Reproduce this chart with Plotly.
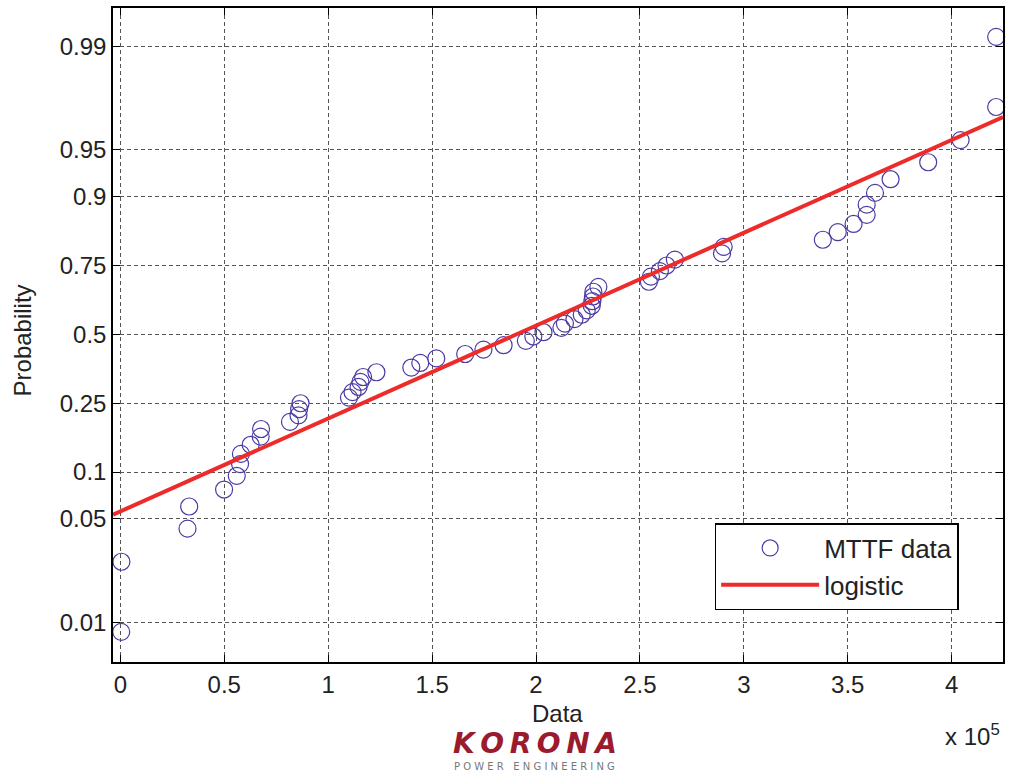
import math
import plotly.graph_objects as go

# ---- data ----
mttf_x = [400, 500, 32300, 33100, 49900, 56000, 57600, 58000, 62700, 67500,
          67700, 81600, 85700, 86000, 86700, 110000, 111700, 114600, 115500, 116800,
          123200, 140000, 144300, 152000, 165900, 174700, 184400, 195100, 198700, 203600,
          212200, 213900, 218500, 222000, 224400, 226800, 227100, 227400, 227600, 230000,
          254300, 255300, 259600, 262800, 266800, 289500, 290300, 338000, 345200, 352800,
          359100, 359100, 363100, 370600, 388700, 404300, 421400, 421400]
mttf_p = [0.0086, 0.0259, 0.0431, 0.0603, 0.0776, 0.0948, 0.1121, 0.1293, 0.1466, 0.1638,
          0.1810, 0.1983, 0.2155, 0.2328, 0.2500, 0.2672, 0.2845, 0.3017, 0.3190, 0.3362,
          0.3534, 0.3707, 0.3879, 0.4052, 0.4224, 0.4397, 0.4569, 0.4741, 0.4914, 0.5086,
          0.5259, 0.5431, 0.5603, 0.5776, 0.5948, 0.6121, 0.6293, 0.6466, 0.6638, 0.6810,
          0.6983, 0.7155, 0.7328, 0.7500, 0.7672, 0.7845, 0.8017, 0.8190, 0.8362, 0.8534,
          0.8707, 0.8879, 0.9052, 0.9224, 0.9397, 0.9569, 0.9741, 0.9914]

# fitted logistic distribution (location, scale)
logistic_mu = 190600
logistic_s = 67490

x_range = [-3550, 424700]
x_tick_vals = [0, 50000, 100000, 150000, 200000, 250000, 300000, 350000, 400000]
x_tick_text = ["0", "0.5", "1", "1.5", "2", "2.5", "3", "3.5", "4"]
y_tick_probs = [0.01, 0.05, 0.1, 0.25, 0.5, 0.75, 0.9, 0.95, 0.99]
y_tick_text = ["0.01", "0.05", "0.1", "0.25", "0.5", "0.75", "0.9", "0.95", "0.99"]
y_logit_range = [-5.227, 5.207]


def logit(p):
    return math.log(p / (1 - p))


FONT = "Liberation Sans, Arial, Helvetica, sans-serif"

fig = go.Figure()
fig.add_trace(go.Scatter(
    x=mttf_x, y=[logit(p) for p in mttf_p], mode="markers", name="MTTF data",
    marker=dict(symbol="circle-open", size=17, color="#4b3aa3", line=dict(width=1.2, color="#4b3aa3")),
    cliponaxis=False,
))
fig.add_trace(go.Scatter(
    x=x_range, y=[(x - logistic_mu) / logistic_s for x in x_range], mode="lines", name="logistic",
    line=dict(color="#ee2b2b", width=4),
))

axis_common = dict(
    showline=True, linecolor="black", linewidth=1.5, mirror="ticks",
    ticks="inside", ticklen=7, tickcolor="black", tickwidth=1,
    showgrid=True, gridcolor="#555555", gridwidth=1, griddash="4px,3px",
    zeroline=False, tickfont=dict(family=FONT, size=24, color="#222"),
)

fig.update_xaxes(range=x_range, tickvals=x_tick_vals, ticktext=x_tick_text, **axis_common)
fig.update_yaxes(range=y_logit_range, tickvals=[logit(p) for p in y_tick_probs],
                 ticktext=y_tick_text, **axis_common)

fig.update_layout(
    width=1009, height=772,
    margin=dict(l=113, r=4, t=8, b=110),
    paper_bgcolor="white", plot_bgcolor="white",
    font=dict(family=FONT, size=24, color="#222"),
    showlegend=True,
    legend=dict(x=0.676, y=0.2125, xanchor="left", yanchor="top",
                bgcolor="white", bordercolor="black", borderwidth=1.5,
                font=dict(family=FONT, size=26, color="#222"),
                itemwidth=98, tracegroupgap=0),
    annotations=[
        dict(text="Probability", xref="paper", yref="paper", x=-0.102, y=0.492,
             textangle=-90, showarrow=False, font=dict(size=24, family=FONT, color="#222"),
             xanchor="center", yanchor="middle"),
        dict(text="Data", xref="paper", yref="paper", x=0.499, y=-0.0795,
             showarrow=False, font=dict(size=24, family=FONT, color="#222"),
             xanchor="center", yanchor="middle"),
        dict(text="x 10<sup>5</sup>", xref="paper", yref="paper", x=0.966, y=-0.112,
             showarrow=False, font=dict(size=24, family=FONT, color="#222"),
             xanchor="center", yanchor="middle"),
        dict(text="<b><i>K\u2009O\u2009R\u2009O\u2009N\u2009A</i></b>", xref="paper", yref="paper",
             x=0.474, y=-0.1239,
             showarrow=False, font=dict(size=28, family="DejaVu Sans, sans-serif", color="#9b1b2e"),
             xanchor="center", yanchor="middle"),
        dict(text="P O W E R   E N G I N E E R I N G", xref="paper", yref="paper", x=0.474, y=-0.1600,
             showarrow=False, font=dict(size=10, family="DejaVu Sans, sans-serif", color="#777"),
             xanchor="center", yanchor="middle"),
    ],
)

fig.write_html("out.html")
